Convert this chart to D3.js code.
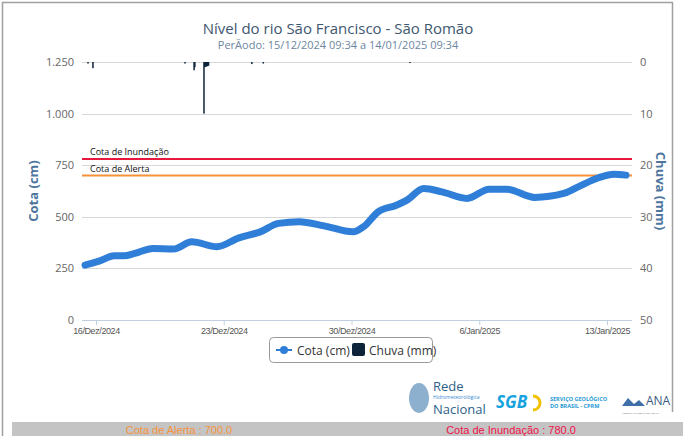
<!DOCTYPE html>
<html>
<head>
<meta charset="utf-8">
<script src="https://cdn.jsdelivr.net/npm/d3@7"></script>
<style>
  body { margin: 0; background: #fff; }
  svg { display: block; font-family: "Open Sans", sans-serif; }
</style>
</head>
<body>
<div id="chart"></div>
<script>
// Cota (cm) readings
const cotaTimes = [
  "2024-12-15T09:34", "2024-12-16T04:00", "2024-12-17T00:00", "2024-12-17T13:00",
  "2024-12-18T03:00", "2024-12-19T03:00", "2024-12-20T06:00", "2024-12-21T06:00",
  "2024-12-22T15:00", "2024-12-23T20:00", "2024-12-25T00:00", "2024-12-26T00:00",
  "2024-12-27T03:00", "2024-12-28T12:00", "2024-12-30T02:00", "2024-12-30T16:00",
  "2024-12-31T11:00", "2025-01-01T11:00", "2025-01-02T01:00", "2025-01-02T23:00",
  "2025-01-03T23:00", "2025-01-05T08:00", "2025-01-06T13:00", "2025-01-07T12:00",
  "2025-01-09T01:00", "2025-01-10T15:00", "2025-01-11T10:00", "2025-01-12T13:00",
  "2025-01-13T09:00", "2025-01-14T01:00"
];
const cotaValues = [
  266, 285, 311, 311, 323, 347, 344, 379, 355, 398, 427, 468, 476, 456, 427, 452,
  524, 556, 581, 637, 621, 589, 634, 634, 594, 613, 645, 689, 706, 702
];

// Chuva (mm)
const chuvaTimes = [
  "2024-12-15T13:30", "2024-12-15T20:00", "2024-12-20T21:00", "2024-12-21T09:00",
  "2024-12-21T10:00", "2024-12-21T22:00", "2024-12-21T23:00", "2024-12-22T00:00",
  "2024-12-22T01:00", "2024-12-22T02:00", "2024-12-22T03:00", "2024-12-22T04:00",
  "2024-12-24T13:00", "2024-12-25T04:00", "2025-01-02T05:00"
];
const chuvaValues = [0.3, 1.2, 0.3, 1.6, 1.0, 10, 1.0, 0.9, 0.9, 0.8, 0.8, 0.7, 0.4, 0.3, 0.2];

const cotaTicks = [0, 250, 500, 750, 1000, 1250];
const chuvaTicks = [0, 10, 20, 30, 40, 50];
const dateTicks = ["2024-12-16", "2024-12-23", "2024-12-30", "2025-01-06", "2025-01-13"];
const dateLabels = ["16/Dez/2024", "23/Dez/2024", "30/Dez/2024", "6/Jan/2025", "13/Jan/2025"];

const cotaAlerta = 700;
const cotaInundacao = 780;

const titleText = "Nível do rio São Francisco - São Romão";
const subtitleText = "PerÃodo: 15/12/2024 09:34 a 14/01/2025 09:34";

const W = 683, H = 436;
const plot = { left: 82, right: 632, top: 62, bottom: 320 };

const parse = d3.timeParse("%Y-%m-%dT%H:%M");
const parseDay = d3.timeParse("%Y-%m-%d");

const svg = d3.select("#chart").append("svg")
  .attr("width", W)
  .attr("height", H);

// outer frame
svg.append("path")
  .attr("d", `M2.5,${H} V2.5 H672.5 V412`)
  .attr("fill", "none")
  .attr("stroke", "#a0a0a0")
  .attr("stroke-width", 1.5);

// x scale anchored so the day ticks land like the original
const x = d3.scaleTime()
  .domain([parseDay("2024-12-16"), parseDay("2025-01-13")])
  .range([96, 607]);

const y = d3.scaleLinear().domain([0, 1250]).range([plot.bottom, plot.top]);
const yRain = d3.scaleLinear().domain([0, 50]).range([plot.top, plot.bottom]);

// title
svg.append("text")
  .attr("x", 338).attr("y", 34)
  .attr("text-anchor", "middle")
  .attr("font-size", 15)
  .attr("fill", "#3e576f")
  .text(titleText);

svg.append("text")
  .attr("x", 338).attr("y", 49)
  .attr("text-anchor", "middle")
  .attr("font-size", 11)
  .attr("fill", "#6d869f")
  .text(subtitleText);

// grid lines
svg.append("g")
  .selectAll("line")
  .data(cotaTicks.filter(d => d > 0))
  .join("line")
  .attr("x1", plot.left).attr("x2", plot.right)
  .attr("y1", d => Math.round(y(d)) + 0.5)
  .attr("y2", d => Math.round(y(d)) + 0.5)
  .attr("stroke", "#d8d8d8");

// left axis
const gLeft = svg.append("g")
  .attr("transform", `translate(${plot.left},0)`)
  .call(d3.axisLeft(y).tickValues(cotaTicks).tickSize(0).tickPadding(8)
    .tickFormat(d => d3.format(",")(d).replace(",", ".")));
gLeft.select(".domain").remove();
gLeft.selectAll("text").attr("font-size", 11).attr("fill", "#666")
  .attr("font-family", "Open Sans, sans-serif");

// right axis
const gRight = svg.append("g")
  .attr("transform", `translate(${plot.right},0)`)
  .call(d3.axisRight(yRain).tickValues(chuvaTicks).tickSize(0).tickPadding(8));
gRight.select(".domain").remove();
gRight.selectAll("text").attr("font-size", 11).attr("fill", "#666")
  .attr("font-family", "Open Sans, sans-serif");

// x axis
const gx = svg.append("g")
  .attr("transform", `translate(0,${plot.bottom})`)
  .call(d3.axisBottom(x).tickValues(dateTicks.map(parseDay)).tickSize(5).tickPadding(3)
    .tickFormat((d, i) => dateLabels[i]));
gx.select(".domain")
  .attr("d", `M${plot.left},0.5H${plot.right}`)
  .attr("stroke", "#c0d0e0");
gx.selectAll(".tick line").attr("stroke", "#c0d0e0");
gx.selectAll("text").attr("font-size", 9).attr("fill", "#555")
  .attr("font-family", "Liberation Sans, Arial, sans-serif")
  .attr("letter-spacing", "-0.4px");

// axis titles
svg.append("text")
  .attr("transform", `translate(38,${(plot.top + plot.bottom) / 2}) rotate(-90)`)
  .attr("text-anchor", "middle")
  .attr("font-size", 13).attr("font-weight", "bold")
  .attr("fill", "#4d759e")
  .text("Cota (cm)");

svg.append("text")
  .attr("transform", `translate(656,${(plot.top + plot.bottom) / 2}) rotate(90)`)
  .attr("text-anchor", "middle")
  .attr("font-size", 13).attr("font-weight", "bold")
  .attr("fill", "#4d759e")
  .text("Chuva (mm)");

// plot lines for alert / flood levels
const levels = [
  { value: cotaInundacao, label: "Cota de Inundação", color: "#e8173e" },
  { value: cotaAlerta, label: "Cota de Alerta", color: "#f7923a" }
];
const gLevels = svg.append("g");
gLevels.selectAll("line")
  .data(levels)
  .join("line")
  .attr("x1", plot.left).attr("x2", plot.right)
  .attr("y1", d => y(d.value)).attr("y2", d => y(d.value))
  .attr("stroke", d => d.color)
  .attr("stroke-width", 2);
gLevels.selectAll("text")
  .data(levels)
  .join("text")
  .attr("x", plot.left + 8)
  .attr("y", d => y(d.value) - 4)
  .attr("font-size", 9)
  .attr("fill", "#111")
  .text(d => d.label);

// rain bars hanging from the top
const rain = chuvaTimes.map((t, i) => ({ t: parse(t), v: chuvaValues[i] }));
svg.append("g")
  .selectAll("rect")
  .data(rain)
  .join("rect")
  .attr("x", d => x(d.t) - 0.75)
  .attr("y", plot.top)
  .attr("width", 1.5)
  .attr("height", d => yRain(d.v) - plot.top)
  .attr("fill", "#0d233a");

// cota line
const cota = cotaTimes.map((t, i) => ({ t: parse(t), v: cotaValues[i] }));
svg.append("path")
  .datum(cota)
  .attr("fill", "none")
  .attr("stroke", "#2f7ed8")
  .attr("stroke-width", 7)
  .attr("stroke-linecap", "round")
  .attr("stroke-linejoin", "round")
  .attr("d", d3.line().x(d => x(d.t)).y(d => y(d.v)).curve(d3.curveMonotoneX));

// legend
const lg = svg.append("g").attr("transform", "translate(269,337)");
lg.append("rect")
  .attr("x", 0.5).attr("y", 0.5)
  .attr("width", 163).attr("height", 25)
  .attr("rx", 4)
  .attr("fill", "#fff")
  .attr("stroke", "#999");
lg.append("line")
  .attr("x1", 7).attr("x2", 23).attr("y1", 13).attr("y2", 13)
  .attr("stroke", "#2f7ed8").attr("stroke-width", 2);
lg.append("circle").attr("cx", 15).attr("cy", 13).attr("r", 4).attr("fill", "#2f7ed8");
lg.append("text").attr("x", 28).attr("y", 17.5)
  .attr("font-size", 12).attr("fill", "#333").text("Cota (cm)");
lg.append("rect").attr("x", 83).attr("y", 6).attr("width", 13).attr("height", 13)
  .attr("rx", 2).attr("fill", "#0d233a");
lg.append("text").attr("x", 100).attr("y", 17.5)
  .attr("font-size", 12).attr("fill", "#333").text("Chuva (mm)");

// logos (text approximations)
const logo = svg.append("g");
logo.append("ellipse").attr("cx", 419).attr("cy", 398).attr("rx", 10).attr("ry", 15)
  .attr("fill", "#5b8fb8").attr("opacity", 0.7);
logo.append("text").attr("x", 433).attr("y", 391).attr("font-size", 13)
  .attr("fill", "#2e5f8a").text("Rede");
logo.append("text").attr("x", 433).attr("y", 399).attr("font-size", 5)
  .attr("fill", "#3a8ad0").text("Hidrometeorológica");
logo.append("text").attr("x", 433).attr("y", 414).attr("font-size", 13)
  .attr("fill", "#2e5f8a").text("Nacional");
logo.append("text").attr("x", 496).attr("y", 408).attr("font-size", 17)
  .attr("font-weight", "bold").attr("font-style", "italic")
  .attr("fill", "#17a3e0").text("SGB");
logo.append("path").attr("d", "M533,396 a7,7 0 1,1 0,14").attr("fill", "none")
  .attr("stroke", "#f2c200").attr("stroke-width", 3);
logo.append("text").attr("x", 550).attr("y", 401).attr("font-size", 5.5)
  .attr("font-weight", "bold").attr("fill", "#1f9ad6").text("SERVIÇO GEOLÓGICO");
logo.append("text").attr("x", 550).attr("y", 408).attr("font-size", 5.5)
  .attr("font-weight", "bold").attr("fill", "#1f9ad6").text("DO BRASIL - CPRM");
logo.append("path").attr("d", "M622,406 l6,-8 l6,6 l5,-4 l6,6 z")
  .attr("fill", "#3e6fa8");
logo.append("text").attr("x", 646).attr("y", 405).attr("font-size", 12)
  .attr("fill", "#3a5a80").text("ANA");
logo.append("text").attr("x", 622).attr("y", 414).attr("font-size", 2.5)
  .attr("fill", "#666").text("AGÊNCIA NACIONAL DE ÁGUAS");

// bottom band with level values
svg.append("rect")
  .attr("x", 12).attr("y", 422).attr("width", W - 12).attr("height", 14)
  .attr("fill", "#c4c4c4");
svg.append("text").attr("x", 179).attr("y", 434).attr("text-anchor", "middle")
  .attr("font-size", 11).attr("fill", "#f7923a")
  .attr("font-family", "Liberation Sans, Arial, sans-serif")
  .text("Cota de Alerta : " + cotaAlerta.toFixed(1));
svg.append("text").attr("x", 511).attr("y", 434).attr("text-anchor", "middle")
  .attr("font-size", 11).attr("fill", "#f0104a")
  .attr("font-family", "Liberation Sans, Arial, sans-serif")
  .text("Cota de Inundação : " + cotaInundacao.toFixed(1));
</script>
</body>
</html>
